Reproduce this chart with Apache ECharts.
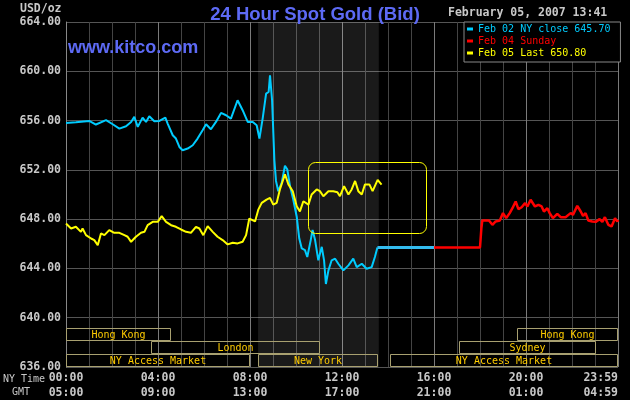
<!DOCTYPE html>
<html><head><meta charset="utf-8">
<script src="https://cdn.jsdelivr.net/npm/echarts@6/dist/echarts.min.js"></script>
<style>html,body{margin:0;padding:0;background:#000;}#c{width:630px;height:400px;}</style>
</head><body><div id="c"></div>
<script>
// ---- data ----
const nyTimeLabels = ['00:00','04:00','08:00','12:00','16:00','20:00','23:59'];
const gmtLabels = ['05:00','09:00','13:00','17:00','21:00','01:00','04:59'];

const cyanName = 'Feb 02 NY close 645.70';
const redName = 'Feb 04 Sunday';
const yellowName = 'Feb 05 Last 650.80';

const cyanHours = [0,0.43,1.01,1.30,1.74,2.03,2.32,2.61,2.83,2.97,3.12,3.33,3.48,3.62,3.84,4.06,4.32,4.42,4.64,4.78,4.93,5.07,5.29,5.51,5.72,5.94,6.09,6.30,6.52,6.74,6.96,7.17,7.46,7.68,7.90,8.12,8.29,8.41,8.55,8.70,8.81,8.87,8.96,9.06,9.13,9.23,9.38,9.52,9.62,9.74,9.88,10.03,10.14,10.25,10.39,10.49,10.64,10.72,10.83,10.97,11.12,11.22,11.30,11.41,11.55,11.70,11.84,12.06,12.28,12.49,12.64,12.86,13.07,13.29,13.43,13.54];
const cyanValues = [655.81,655.86,655.97,655.68,656.03,655.70,655.35,655.54,655.89,656.30,655.49,656.24,655.89,656.35,655.95,655.97,656.24,655.76,654.81,654.54,653.86,653.59,653.73,654.0,654.54,655.22,655.70,655.30,655.89,656.62,656.43,656.16,657.65,656.84,655.89,655.89,655.62,654.54,656.16,658.19,658.32,659.68,657.65,652.78,651.10,650.27,650.96,652.33,652.05,650.68,649.59,648.22,646.44,645.62,645.48,644.93,646.30,647.12,646.30,644.66,645.75,644.66,642.74,643.84,644.66,644.79,644.38,643.84,644.25,644.79,644.11,644.38,643.97,644.11,644.93,645.70];

const closeHours = [13.54, 16];
const closeValues = [645.70, 645.70];

const redHours = [16,18.0,18.06,18.10,18.39,18.54,18.68,18.86,19.0,19.14,19.29,19.41,19.55,19.67,19.81,19.96,20.06,20.20,20.39,20.54,20.68,20.78,20.93,21.03,21.17,21.36,21.51,21.72,21.94,22.04,22.23,22.38,22.48,22.59,22.71,22.88,23.03,23.20,23.32,23.43,23.58,23.72,23.87,23.97,24.0];
const redValues = [645.7,645.7,647.27,647.89,647.89,647.54,647.81,647.89,648.49,648.08,648.49,648.89,649.43,648.81,648.97,649.30,649.03,649.57,649.03,649.16,649.03,648.62,648.89,648.49,648.08,648.43,648.16,648.16,648.49,648.35,649.08,648.62,648.27,648.49,647.89,647.81,647.78,648.0,647.78,648.16,647.54,647.41,648.08,647.81,647.95];

const yellowHours = [0,0.22,0.43,0.51,0.65,0.72,0.87,1.09,1.23,1.38,1.52,1.67,1.88,2.10,2.32,2.54,2.68,2.83,3.04,3.26,3.41,3.55,3.77,3.99,4.16,4.35,4.57,4.78,5.0,5.22,5.43,5.65,5.80,5.97,6.16,6.38,6.59,6.81,7.03,7.25,7.46,7.68,7.83,7.97,8.22,8.36,8.51,8.72,8.87,9.01,9.16,9.30,9.52,9.67,9.86,10.03,10.17,10.32,10.54,10.68,10.90,11.04,11.19,11.41,11.62,11.80,11.91,12.09,12.28,12.42,12.57,12.71,12.86,13.0,13.19,13.33,13.55,13.72];
const yellowValues = [647.65,647.24,647.38,647.51,646.97,647.24,646.70,646.43,646.30,645.89,646.84,646.70,647.11,646.89,646.89,646.70,646.57,646.16,646.57,646.89,646.97,647.51,647.78,647.78,648.24,647.78,647.51,647.38,647.16,646.97,646.89,647.38,647.24,646.70,647.43,646.97,646.57,646.30,645.95,646.08,646.03,646.16,646.70,648.05,647.81,648.77,649.32,649.59,649.73,649.18,649.32,650.41,651.64,650.82,650.27,649.04,648.63,649.45,649.18,650.0,650.41,650.27,649.86,650.27,650.27,650.19,649.86,650.68,650.0,650.41,651.10,650.27,650.0,650.82,650.82,650.27,651.18,650.80];

// market sessions (hours NY time), row 0 = bottom
const sessionNames = ['Hong Kong','London','NY Access Market','New York','NY Access Market','Sydney','Hong Kong'];
const sessionStart = [0, 3.7, 0, 8.35, 14.09, 17.09, 19.6];
const sessionEnd   = [4.55, 11.04, 8.0, 13.57, 24, 23.04, 24];
const sessionRow   = [2, 1, 0, 0, 0, 1, 2];

// NY pit session shading
const nyShadeStart = 8.35, nyShadeEnd = 13.6;
// highlight box around latest trading
const hlStart = 10.52, hlEnd = 15.65, hlTop = 652.67, hlBottom = 646.93;

// ---- chart ----
const zip = (h, v) => h.map((x, i) => [x, v[i]]);
const MONO = '"DejaVu Sans Mono", monospace';
const chart = echarts.init(document.getElementById('c'), null, {renderer: 'canvas'});

const option = {
  backgroundColor: '#000',
  animation: false,
  title: {
    text: '24 Hour Spot Gold (Bid)', left: 'center', top: 0,
    textStyle: {color: '#5d6af5', fontSize: 18.5, fontWeight: 'bold', fontFamily: '"Liberation Sans", Arial, sans-serif'}
  },
  legend: {
    orient: 'vertical', left: 464, top: 22,
    data: [
      {name: cyanName, textStyle: {color: '#00ccff'}},
      {name: redName, textStyle: {color: '#ff0000'}},
      {name: yellowName, textStyle: {color: '#ffff00'}}
    ],
    icon: 'rect', itemWidth: 6, itemHeight: 3, itemGap: 0,
    padding: [1, 10, 3, 3],
    backgroundColor: '#000', borderColor: '#888', borderWidth: 1,
    textStyle: {fontFamily: MONO, fontSize: 10, lineHeight: 12},
    selectedMode: false
  },
  grid: {left: 66, right: 12, top: 22, bottom: 33},
  xAxis: [{
    type: 'value', min: 0, max: 24, interval: 4,
    axisLine: {show: false}, axisTick: {show: false},
    axisLabel: {color: '#c8c8c8', fontFamily: MONO, fontWeight: 'bold', fontSize: 11.5, margin: 5,
      formatter: v => nyTimeLabels[Math.round(v / 4)], alignMaxLabel: 'right'},
    splitLine: {show: true, lineStyle: {color: '#7a7a7a', width: 1}},
    minorTick: {show: false, splitNumber: 4},
    minorSplitLine: {show: true, lineStyle: {color: '#444', width: 1}}
  }, {
    type: 'value', min: 0, max: 24, interval: 4, position: 'bottom', offset: 15,
    axisLine: {show: false}, axisTick: {show: false},
    axisLabel: {color: '#c8c8c8', fontFamily: MONO, fontWeight: 'bold', fontSize: 11.5, margin: 5,
      formatter: v => gmtLabels[Math.round(v / 4)], alignMaxLabel: 'right'},
    splitLine: {show: false}
  }],
  yAxis: {
    type: 'value', min: 636, max: 664, interval: 4,
    axisLine: {show: true, lineStyle: {color: '#888'}}, axisTick: {show: false},
    axisLabel: {color: '#c8c8c8', fontFamily: MONO, fontWeight: 'bold', fontSize: 11.5, margin: 5,
      formatter: v => v.toFixed(2)},
    splitLine: {show: true, lineStyle: {color: '#555'}}
  },
  series: [
    {
      name: 'nyshade', type: 'line', data: [], silent: true,
      markArea: {silent: true, itemStyle: {color: 'rgba(255,255,255,0.1)'},
        data: [[{xAxis: nyShadeStart}, {xAxis: nyShadeEnd}]]}
    },
    {
      name: 'sessions', type: 'custom', silent: true, clip: false,
      data: sessionStart.map((s, i) => [s, sessionEnd[i], sessionRow[i]]),
      encode: {x: [0, 1]},
      renderItem: function (params, api) {
        const i = params.dataIndex;
        const p0 = api.coord([api.value(0), 636]);
        const p1 = api.coord([api.value(1), 636]);
        const h = 13;
        const yb = p0[1] - api.value(2) * h;
        const y = yb - h;
        const x0 = Math.round(p0[0]) + 0.5, x1 = Math.round(p1[0]) - 0.5;
        return {type: 'group', children: [
          {type: 'rect', shape: {x: x0, y: Math.round(y) + 0.5, width: x1 - x0, height: h - 1},
            style: {fill: 'rgba(0,0,0,0)', stroke: '#a8a070', lineWidth: 1}},
          {type: 'text', style: {text: sessionNames[i], x: (x0 + x1) / 2, y: y + h / 2 + 0.5,
            align: 'center', verticalAlign: 'middle', fill: '#ffcc00', font: '10px ' + MONO}}
        ]};
      },
      z: 3
    },
    {
      name: cyanName, type: 'line', data: zip(cyanHours, cyanValues),
      showSymbol: false, color: '#00ccff', lineStyle: {width: 2, color: '#00ccff'}, z: 4
    },
    {
      name: 'closeFlat', type: 'line', data: zip(closeHours, closeValues),
      showSymbol: false, color: '#33bbee', lineStyle: {width: 3, color: '#33bbee'}, z: 4
    },
    {
      name: redName, type: 'line', data: zip(redHours, redValues),
      showSymbol: false, color: '#ff0000', lineStyle: {width: 2.5, color: '#ff0000'}, z: 4
    },
    {
      name: yellowName, type: 'line', data: zip(yellowHours, yellowValues),
      showSymbol: false, color: '#ffff00', lineStyle: {width: 2, color: '#ffff00'}, z: 5
    }
  ]
};
chart.setOption(option);

const a = chart.convertToPixel({gridIndex: 0}, [hlStart, hlTop]);
const b = chart.convertToPixel({gridIndex: 0}, [hlEnd, hlBottom]);
chart.setOption({
  graphic: [
    {type: 'rect', z: 6, shape: {x: Math.round(a[0]) + 0.5, y: Math.round(a[1]) + 0.5,
      width: Math.round(b[0] - a[0]), height: Math.round(b[1] - a[1]), r: 7},
      style: {fill: 'rgba(0,0,0,0)', stroke: '#ffff00', lineWidth: 1}},
    {type: 'text', left: 20, top: 3, style: {text: 'USD/oz', fill: '#c8c8c8',
      font: 'bold 11.5px ' + MONO}},
    {type: 'text', left: 68, top: 39, style: {text: 'www.kitco.com', fill: '#5d6af5',
      font: 'bold 18px "Liberation Sans", Arial, sans-serif'}},
    {type: 'text', left: 448, top: 7, style: {text: 'February 05, 2007 13:41', fill: '#c8c8c8',
      font: 'bold 11.5px ' + MONO}},
    {type: 'text', left: 3, top: 374, style: {text: 'NY Time', fill: '#c8c8c8',
      font: '10px ' + MONO}},
    {type: 'text', left: 12, top: 387, style: {text: 'GMT', fill: '#c8c8c8',
      font: '10px ' + MONO}}
  ]
});
</script>
</body></html>
